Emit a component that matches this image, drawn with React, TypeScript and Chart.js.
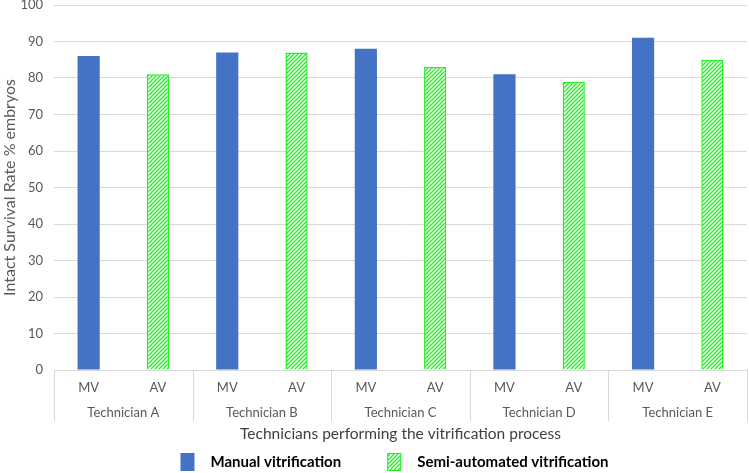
import React, { useEffect, useRef } from 'react';
import { Chart, registerables } from 'chart.js';

Chart.register(...registerables);

const categories = ['MV', 'AV', 'MV', 'AV', 'MV', 'AV', 'MV', 'AV', 'MV', 'AV'];
const technicians = ['Technician A', 'Technician B', 'Technician C', 'Technician D', 'Technician E'];
const manualValues = [86, null, 87, null, 88, null, 81, null, 91, null];
const semiValues = [null, 81, null, 87, null, 83, null, 79, null, 85];
const seriesNames = ['Manual vitrification', 'Semi-automated vitrification'];
const yAxisTitle = 'Intact Survival Rate % embryos';
const xAxisTitle = 'Technicians performing the vitrification process';

const FONT = 'Lato';
const GRAY = '#595959';
const BLUE = '#4472C4';
const GREEN = '#22ee22';

function makeHatch(): CanvasPattern | string {
  const s = 4;
  const c = document.createElement('canvas');
  c.width = s;
  c.height = s;
  const g = c.getContext('2d');
  if (!g) return '#aaffaa';
  g.fillStyle = '#ffffff';
  g.fillRect(0, 0, s, s);
  g.strokeStyle = GREEN;
  g.lineWidth = 1.3;
  g.beginPath();
  g.moveTo(-1, s + 1);
  g.lineTo(s + 1, -1);
  g.moveTo(-1, 1);
  g.lineTo(1, -1);
  g.moveTo(s - 1, s + 1);
  g.lineTo(s + 1, s - 1);
  g.stroke();
  return g.createPattern(c, 'repeat') || '#aaffaa';
}

const groupPlugin = {
  id: 'groupPlugin',
  afterDraw(chart: any) {
    const { ctx, chartArea } = chart;
    const x = chart.scales.x;
    const bottom = chartArea.bottom;
    ctx.save();
    // group separators
    ctx.strokeStyle = '#d9d9d9';
    ctx.lineWidth = 1;
    const bounds: number[] = [x.left];
    for (let g = 1; g < technicians.length; g++) {
      bounds.push((x.getPixelForValue(2 * g - 1) + x.getPixelForValue(2 * g)) / 2);
    }
    bounds.push(x.right);
    bounds.forEach((b) => {
      const px = Math.round(b) + 0.5;
      ctx.beginPath();
      ctx.moveTo(px, bottom);
      ctx.lineTo(px, bottom + 51);
      ctx.stroke();
    });
    // group labels
    ctx.fillStyle = GRAY;
    ctx.font = `13px "${FONT}"`;
    ctx.textAlign = 'center';
    ctx.textBaseline = 'middle';
    technicians.forEach((t, g) => {
      const cx = (x.getPixelForValue(2 * g) + x.getPixelForValue(2 * g + 1)) / 2;
      ctx.fillText(t, cx, bottom + 43);
    });
    // legend
    ctx.font = `bold 15px "${FONT}"`;
    const boxW = 14;
    const boxH = 18;
    const gapText = 16;
    const gapItem = 46;
    const widths = chart.data.datasets.map((d: any) => boxW + gapText + ctx.measureText(d.label).width);
    const total = widths.reduce((a: number, b: number) => a + b, 0) + gapItem * (widths.length - 1);
    let cx = (chartArea.left + chartArea.right) / 2 - 6 - total / 2;
    const cy = 462;
    chart.data.datasets.forEach((d: any, i: number) => {
      ctx.fillStyle = d.backgroundColor;
      ctx.fillRect(cx, cy - boxH / 2, boxW, boxH);
      if (d.borderWidth) {
        ctx.strokeStyle = d.borderColor;
        ctx.lineWidth = 1;
        ctx.strokeRect(cx + 0.5, cy - boxH / 2 + 0.5, boxW - 1, boxH - 1);
      }
      ctx.fillStyle = '#000000';
      ctx.textAlign = 'left';
      ctx.fillText(d.label, cx + boxW + gapText, cy);
      cx += widths[i] + gapItem;
    });
    ctx.restore();
  },
};

export default function App() {
  const ref = useRef<HTMLCanvasElement>(null);
  useEffect(() => {
    document.body.style.margin = '0';
    if (!ref.current) return;
    const chart = new Chart(ref.current, {
      type: 'bar',
      data: {
        labels: categories,
        datasets: [
          {
            label: seriesNames[0],
            data: manualValues,
            backgroundColor: BLUE,
            borderWidth: 0,
          },
          {
            label: seriesNames[1],
            data: semiValues,
            backgroundColor: makeHatch() as any,
            borderColor: GREEN,
            borderWidth: 1.5,
          },
        ],
      },
      options: {
        responsive: false,
        animation: false,
        maintainAspectRatio: false,
        datasets: { bar: { barPercentage: 0.32, categoryPercentage: 1 } },
        layout: { padding: { top: 0, right: 2, bottom: 31, left: 0 } },
        plugins: {
          legend: { display: false },
          tooltip: { enabled: false },
        },
        scales: {
          x: {
            stacked: true,
            grid: { display: false, drawTicks: false },
            border: { display: true, color: '#d9d9d9' },
            ticks: {
              color: GRAY,
              font: { family: FONT, size: 13 },
              padding: 10,
              maxRotation: 0,
            },
            title: {
              display: true,
              text: xAxisTitle,
              color: '#404040',
              font: { family: FONT, size: 15.5, lineHeight: 1 },
              padding: { top: 0, bottom: 0 },
            },
            afterFit(scale: any) {
              scale.height = 72;
              scale.paddingLeft = 0;
              scale.paddingRight = 0;
            },
          },
          y: {
            stacked: false,
            min: 0,
            max: 100,
            ticks: {
              stepSize: 10,
              color: GRAY,
              font: { family: FONT, size: 13 },
              padding: 11,
            },
            grid: { color: '#d9d9d9', drawTicks: false },
            border: { display: false },
            title: {
              display: true,
              text: yAxisTitle,
              color: GRAY,
              font: { family: FONT, size: 16, lineHeight: 1 },
              padding: { top: 2, bottom: 3 },
            },
            afterFit(scale: any) {
              scale.width = 54;
              scale.paddingTop = 5;
              scale.paddingBottom = 0;
            },
          },
        },
      },
      plugins: [groupPlugin],
    });
    return () => chart.destroy();
  }, []);
  return (
    <div style={{ width: 749, height: 473 }}>
      <canvas ref={ref} width={749} height={473} style={{ display: 'block', width: 749, height: 473 }} />
    </div>
  );
}
